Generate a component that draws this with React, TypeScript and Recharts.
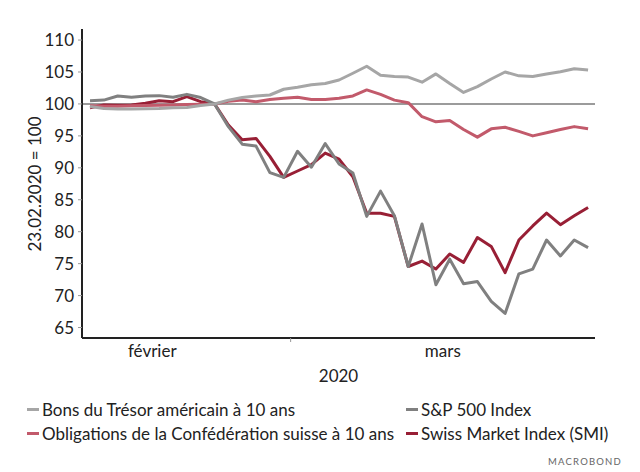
import React from 'react';
import { LineChart, Line, XAxis, YAxis, ReferenceLine } from 'recharts';

// Business days from 10.02.2020 to 31.03.2020 (index 9 = 21.02.2020)
const dayIndex = [0,1,2,3,4,5,6,7,8,9,10,11,12,13,14,15,16,17,18,19,20,21,22,23,24,25,26,27,28,29,30,31,32,33,34,35,36];

const treasury = [99.6,99.3,99.2,99.2,99.25,99.3,99.4,99.45,99.75,100,100.6,101.0,101.25,101.4,102.3,102.6,103.0,103.2,103.75,104.8,105.9,104.5,104.3,104.2,103.4,104.7,103.2,101.8,102.7,103.9,105.0,104.4,104.3,104.7,105.05,105.5,105.3];
const sp500 = [100.5,100.6,101.25,101.05,101.25,101.3,101.05,101.5,101.0,100,96.45,93.7,93.4,89.25,88.5,92.6,90.1,93.8,90.6,89.2,82.4,86.35,82.5,74.55,81.2,71.7,75.7,71.85,72.2,69.1,67.2,73.4,74.15,78.7,76.2,78.7,77.5];
const confed = [99.7,99.65,99.65,99.7,99.75,99.8,99.85,99.9,99.95,100,100.4,100.6,100.35,100.7,100.9,101.05,100.7,100.7,100.9,101.25,102.2,101.5,100.6,100.2,98.0,97.2,97.4,96.0,94.8,96.1,96.35,95.7,95.0,95.5,96.0,96.45,96.1];
const smi = [99.4,99.85,99.8,99.85,100.1,100.5,100.35,101.15,100.35,100,96.7,94.4,94.6,91.8,88.5,89.5,90.5,92.3,91.35,88.6,82.9,82.9,82.4,74.55,75.4,74.15,76.5,75.2,79.1,77.7,73.6,78.7,80.9,82.9,81.1,82.5,83.8];

const yTicks = [65, 70, 75, 80, 85, 90, 95, 100, 105, 110];
// month label centres (in business-day index) and month boundary
const monthTicks = [4.5, 14.5, 25.5];
const monthLabels: Record<string, string> = { '4.5': 'février', '25.5': 'mars' };
const yearLabel = '2020';
const yAxisTitle = '23.02.2020 = 100';
const sourceLabel = 'MACROBOND';

const seriesNames = {
  treasury: 'Bons du Trésor américain à 10 ans',
  sp500: 'S&P 500 Index',
  confed: 'Obligations de la Confédération suisse à 10 ans',
  smi: 'Swiss Market Index (SMI)',
};
const colors = {
  treasury: '#a6a6a6',
  sp500: '#808080',
  confed: '#c25a6b',
  smi: '#981f35',
};

const data = dayIndex.map((i, k) => ({
  i,
  treasury: treasury[k],
  sp500: sp500[k],
  confed: confed[k],
  smi: smi[k],
}));

const FONT = 'Lato, "Open Sans", sans-serif';

const MonthTick = (props: any) => {
  const { x, y, payload } = props;
  const label = monthLabels[String(payload.value)];
  if (!label) {
    return <line x1={x} x2={x} y1={y - 8} y2={y - 4} stroke="#999" strokeWidth={1} />;
  }
  return (
    <text x={x} y={y + 11} textAnchor="middle" fontSize={17} fontFamily={FONT} fill="#222">
      {label}
    </text>
  );
};

const legendItems: { key: keyof typeof colors; left: number; top: number }[] = [
  { key: 'treasury', left: 27, top: 409 },
  { key: 'sp500', left: 406, top: 409 },
  { key: 'confed', left: 27, top: 433 },
  { key: 'smi', left: 406, top: 433 },
];

export default function App() {
  return (
    <div style={{ position: 'absolute', left: 0, top: 0, width: 640, height: 472, background: '#fff', fontFamily: FONT }}>
      <LineChart width={640} height={472} data={data} margin={{ top: 29, right: 45, bottom: 84, left: 0 }}>
        <XAxis
          dataKey="i"
          type="number"
          domain={[-0.58, 36.5]}
          ticks={monthTicks}
          tick={<MonthTick />}
          tickLine={false}
          axisLine={{ stroke: '#222', strokeWidth: 2 }}
          height={50}
          interval={0}
          allowDataOverflow
          label={{ value: yearLabel, position: 'insideBottom', offset: 6, fontSize: 17, fontFamily: FONT, fill: '#222' }}
        />
        <YAxis
          type="number"
          domain={[63.36, 111.73]}
          ticks={yTicks}
          width={82}
          allowDataOverflow
          tickLine={{ stroke: '#999' }}
          tickSize={4}
          tickMargin={4}
          axisLine={{ stroke: '#222', strokeWidth: 2 }}
          tick={{ fontSize: 17, fontFamily: FONT, fill: '#222' }}
          label={{
            content: () => (
              <text x={34} y={184} transform="rotate(-90 34 184)" textAnchor="middle" dominantBaseline="central" fontSize={17} fontFamily={FONT} fill="#222">
                {yAxisTitle}
              </text>
            ),
          }}
        />
        <ReferenceLine y={100} stroke="#7a7a7a" strokeWidth={1.5} />
        <Line dataKey="smi" stroke={colors.smi} strokeWidth={3} dot={false} isAnimationActive={false} strokeLinejoin="round" />
        <Line dataKey="confed" stroke={colors.confed} strokeWidth={3} dot={false} isAnimationActive={false} strokeLinejoin="round" />
        <Line dataKey="sp500" stroke={colors.sp500} strokeWidth={3} dot={false} isAnimationActive={false} strokeLinejoin="round" />
        <Line dataKey="treasury" stroke={colors.treasury} strokeWidth={3} dot={false} isAnimationActive={false} strokeLinejoin="round" />
      </LineChart>
      {legendItems.map((it) => (
        <div
          key={it.key}
          style={{ position: 'absolute', left: it.left, top: it.top - 11, height: 22, display: 'flex', alignItems: 'center', fontSize: 17, color: '#222', whiteSpace: 'nowrap' }}
        >
          <span style={{ display: 'inline-block', width: 12, height: 3, background: colors[it.key], marginRight: 3 }} />
          {seriesNames[it.key]}
        </div>
      ))}
      <div style={{ position: 'absolute', right: 18, top: 456, fontSize: 9.5, letterSpacing: 1.2, color: '#666' }}>{sourceLabel}</div>
    </div>
  );
}
